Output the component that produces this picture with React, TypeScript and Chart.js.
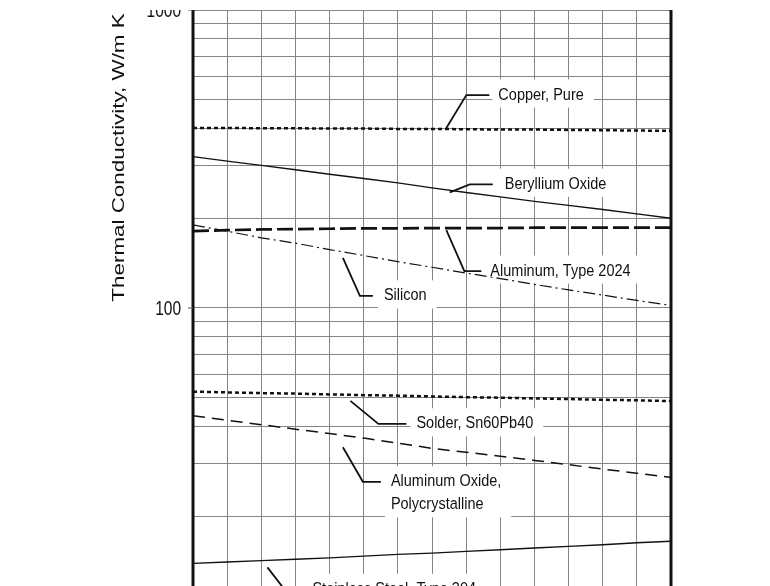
import React, { useEffect, useRef } from "react";
import { Chart, registerables } from "chart.js";

Chart.register(...registerables);

// ---- data ----
const xSteps = [0, 1, 2, 3, 4, 5, 6, 7, 8, 9, 10, 11, 12, 13, 14];
const copperPure = [402, 402, 401, 401, 400, 400, 399, 399, 398, 397, 397, 396, 395, 394, 393];
const berylliumOxide = [322, 311, 301, 291, 281, 272, 263, 253, 244, 236, 228, 221, 214, 207, 200];
const aluminum2024 = [181, 182.5, 183.5, 184, 184.5, 185, 185, 185.5, 185.5, 185.5, 186, 186, 186, 186, 186];
const silicon = [190, 181, 172, 165, 157, 150, 143, 137, 131, 125.5, 120, 115, 110.5, 106, 102];
const solder = [52.4, 52.1, 51.8, 51.6, 51.3, 51.0, 50.8, 50.5, 50.2, 50.0, 49.7, 49.5, 49.2, 49.0, 48.7];
const aluminumOxide = [43.5, 42.0, 40.6, 39.2, 37.9, 36.6, 35.2, 33.8, 32.8, 31.8, 30.8, 29.8, 28.8, 27.9, 27.0];
const stainless304 = [13.9, 14.05, 14.2, 14.35, 14.5, 14.7, 14.9, 15.05, 15.25, 15.45, 15.65, 15.85, 16.05, 16.3, 16.5];

const seriesNames = [
  "Copper, Pure",
  "Beryllium Oxide",
  "Aluminum, Type 2024",
  "Silicon",
  "Solder, Sn60Pb40",
  "Aluminum Oxide, Polycrystalline",
  "Stainless Steel, Type 304",
];
const seriesValues = [copperPure, berylliumOxide, aluminum2024, silicon, solder, aluminumOxide, stainless304];

const yGridValues = [20, 30, 40, 50, 60, 70, 80, 90, 100, 200, 300, 400, 500, 600, 700, 800, 900, 1000];
const yTickLabels = [100, 1000];
const Y_MIN = 11.67;
const Y_MAX = 1000;
const X_MIN = 0;
const X_MAX = 14;
const yAxisTitle = "Thermal Conductivity, W/m K";

// ---- styles ----
const seriesStyles = [
  { width: 2.5, dash: [4, 3] },
  { width: 1.4, dash: [] },
  { width: 2.7, dash: [16, 5] },
  { width: 1.2, dash: [12, 4, 2, 4] },
  { width: 2.5, dash: [4, 3] },
  { width: 1.5, dash: [12, 7] },
  { width: 1.4, dash: [] },
];

// annotation layout: anchor at x (data units) on a series; pixel offsets (relative to the point on the line)
const annotations = [
  { s: 0, atX: 7.42, start: [0, -1], elbow: [20, -34], run: 23, gap: 9, lines: ["Copper, Pure"] },
  { s: 1, atX: 7.52, start: [0, 2], elbow: [20, -6], run: 23, gap: 12, lines: ["Beryllium Oxide"] },
  { s: 2, atX: 7.42, start: [0, 2], elbow: [18, 43], run: 17, gap: 9, lines: ["Aluminum, Type 2024"] },
  { s: 3, atX: 4.39, start: [0, 6], elbow: [17, 44], run: 13, gap: 11, lines: ["Silicon"] },
  { s: 4, atX: 4.61, start: [0, 6], elbow: [28, 29], run: 28, gap: 10, lines: ["Solder, Sn60Pb40"] },
  { s: 5, atX: 4.39, start: [0, 12], elbow: [20, 46.5], run: 18, gap: 10, lines: ["Aluminum Oxide,", "Polycrystalline"] },
  { s: 6, atX: 2.18, start: [0, 7], elbow: [17, 29], run: 20, gap: 8, lines: ["Stainless Steel, Type 304"] },
];

const FONT = '"Liberation Sans", Arial, Helvetica, sans-serif';
const LABEL_SIZE = 14.5;
const LABEL_STRETCH = 1.17;
const LINE_GAP = 23;

function valueAt(arr: number[], xv: number) {
  const i = Math.max(0, Math.min(arr.length - 2, Math.floor(xv)));
  const t = xv - i;
  const a = Math.log10(arr[i]);
  const b = Math.log10(arr[i + 1]);
  return Math.pow(10, a + (b - a) * t);
}

function annGeom(chart: any, an: any) {
  const { x, y } = chart.scales;
  const v = valueAt(seriesValues[an.s], an.atX);
  const lx = x.getPixelForValue(an.atX);
  const ly = y.getPixelForValue(v);
  const px = lx + an.start[0];
  const py = ly + an.start[1];
  const ex = lx + an.elbow[0];
  const ey = ly + an.elbow[1];
  const hx = ex + an.run;
  const tx = hx + an.gap;
  const cy = ey - 1.5;
  return { px, py, ex, ey, hx, tx, cy };
}

function drawStretchedText(ctx: CanvasRenderingContext2D, text: string, x: number, cy: number, size: number, stretch: number, align: CanvasTextAlign) {
  ctx.save();
  ctx.translate(x, cy);
  ctx.scale(1, stretch);
  ctx.font = `${size}px ${FONT}`;
  ctx.textAlign = align;
  ctx.textBaseline = "alphabetic";
  ctx.fillText(text, 0, (0.716 * size) / 2);
  ctx.restore();
}

const backgroundsPlugin = {
  id: "labelBackgrounds",
  beforeDatasetsDraw(chart: any) {
    const ctx: CanvasRenderingContext2D = chart.ctx;
    ctx.save();
    ctx.font = `${LABEL_SIZE}px ${FONT}`;
    const capS = 0.716 * LABEL_SIZE * LABEL_STRETCH;
    ctx.fillStyle = "#ffffff";
    annotations.forEach((an) => {
      const g = annGeom(chart, an);
      const w = Math.max(...an.lines.map((l) => ctx.measureText(l).width));
      const top = g.cy - capS / 2 - 8;
      const bottom = g.cy + (an.lines.length - 1) * LINE_GAP + capS / 2 + 8;
      ctx.fillRect(g.tx - 6, top, w + 16, bottom - top);
    });
    ctx.restore();
  },
};

const overlayPlugin = {
  id: "overlay",
  afterDraw(chart: any) {
    const ctx: CanvasRenderingContext2D = chart.ctx;
    const a = chart.chartArea;
    const y = chart.scales.y;
    ctx.save();

    // leaders + labels
    ctx.strokeStyle = "#111";
    ctx.lineWidth = 1.8;
    ctx.fillStyle = "#111";
    annotations.forEach((an) => {
      const g = annGeom(chart, an);
      ctx.beginPath();
      ctx.moveTo(g.px, g.py);
      ctx.lineTo(g.ex, g.ey);
      ctx.lineTo(g.hx, g.ey);
      ctx.stroke();
      an.lines.forEach((l, k) => {
        drawStretchedText(ctx, l, g.tx, g.cy + k * LINE_GAP, LABEL_SIZE, LABEL_STRETCH, "left");
      });
    });

    // frame borders
    ctx.strokeStyle = "#111";
    ctx.lineWidth = 3;
    [a.left, a.right].forEach((px) => {
      ctx.beginPath();
      ctx.moveTo(px, a.top);
      ctx.lineTo(px, a.bottom);
      ctx.stroke();
    });

    // y tick labels + small ticks
    ctx.lineWidth = 1;
    ctx.strokeStyle = "#555";
    yTickLabels.forEach((v) => {
      const py = y.getPixelForValue(v);
      ctx.beginPath();
      ctx.moveTo(a.left - 5, py);
      ctx.lineTo(a.left, py);
      ctx.stroke();
      ctx.fillStyle = "#111";
      drawStretchedText(ctx, String(v), a.left - 12, py, 15.5, 1.25, "right");
    });

    // y axis title (rotated)
    ctx.save();
    ctx.translate(123.5, 157.5);
    ctx.rotate(-Math.PI / 2);
    ctx.scale(1.4, 1);
    ctx.font = `16px ${FONT}`;
    ctx.textAlign = "center";
    ctx.textBaseline = "alphabetic";
    ctx.fillStyle = "#111";
    ctx.fillText(yAxisTitle, 0, 0);
    ctx.restore();

    // white band at the top of the picture
    ctx.fillStyle = "#ffffff";
    ctx.fillRect(0, 0, chart.width, a.top);
    ctx.restore();
  },
};

export default function App() {
  const ref = useRef<HTMLCanvasElement | null>(null);
  useEffect(() => {
    if (!ref.current) return;
    const datasets = seriesValues.map((vals, i) => ({
      label: seriesNames[i],
      data: xSteps.map((xv, k) => ({ x: xv, y: vals[k] })),
      borderColor: "#111111",
      borderWidth: seriesStyles[i].width,
      borderDash: seriesStyles[i].dash,
      borderCapStyle: "butt" as const,
      pointRadius: 0,
      tension: 0,
      fill: false,
    }));
    const chart = new Chart(ref.current, {
      type: "line",
      data: { datasets },
      options: {
        responsive: false,
        animation: false,
        events: [],
        layout: { autoPadding: false, padding: { left: 193, right: 99, top: 10, bottom: 0 } },
        plugins: { legend: { display: false }, tooltip: { enabled: false }, title: { display: false } },
        scales: {
          x: {
            type: "linear",
            min: X_MIN,
            max: X_MAX,
            ticks: { display: false, stepSize: 1 },
            grid: { color: "#858585", lineWidth: 1, drawTicks: false },
            border: { display: false },
            afterFit: (s: any) => { s.height = 0; },
          },
          y: {
            type: "logarithmic",
            min: Y_MIN,
            max: Y_MAX,
            ticks: { display: false },
            grid: { color: "#858585", lineWidth: 1, drawTicks: false },
            border: { display: false },
            afterBuildTicks: (s: any) => { s.ticks = yGridValues.map((v) => ({ value: v })); },
            afterFit: (s: any) => { s.width = 0; },
          },
        },
      } as any,
      plugins: [backgroundsPlugin, overlayPlugin],
    });
    return () => chart.destroy();
  }, []);
  return (
    <div style={{ position: "fixed", left: 0, top: 0, width: 770, height: 586, background: "#ffffff" }}>
      <canvas ref={ref} width={770} height={586} style={{ display: "block", width: 770, height: 586 }} />
    </div>
  );
}
